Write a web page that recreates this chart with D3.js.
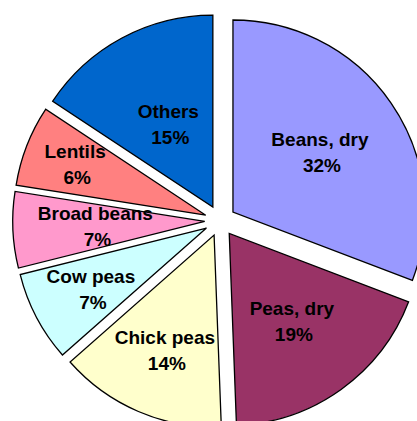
<!DOCTYPE html>
<html>
<head>
    <meta charset="utf-8">
    <title>Pulses pie</title>
    <script type="text/javascript" src="https://d3js.org/d3.v7.min.js"></script>
    <style>
    body{ margin:0; background:#fff; }
    .lbl{ font-family:"Liberation Sans", Arial, sans-serif; font-weight:bold; font-size:19px; fill:#000; }
    </style>
</head>
<body>
<div id="chart"></div>
<script>
// slice shares as drawn, and the percentage labels printed on them
var categories = ['Beans, dry','Peas, dry','Chick peas','Cow peas','Broad beans','Lentils','Others'];
var values     = [30.8, 18.6, 14.1, 7.6, 6.4, 6.8, 15.7];
var pctLabels  = ['32%','19%','14%','7%','7%','6%','15%'];

var colors = ['#9999ff','#993366','#ffffcc','#ccffff','#ff99cc','#ff8080','#0066cc'];
// how far out each label sits, as a fraction of radius
var labelR = [0.55, 0.56, 0.65, 0.68, 0.57, 0.73, 0.49];

var w=417,h=421;
var cx=220.2, cy=220.8, r=192, explode=15.5;

var pie=d3.pie()
        .value(function(d){return d})
        .sort(null);

var arcs=pie(values);

var arc=d3.arc()
        .innerRadius(0)
        .outerRadius(r);

var svg=d3.select('#chart')
        .append('svg')
        .attr('width',w)
        .attr('height',h);

var g=svg.append('g')
        .attr('transform','translate('+cx+','+cy+')');

var slice=g.selectAll('g.slice')
        .data(arcs)
        .enter().append('g')
        .attr('class','slice')
        .attr('transform',function(d){
            var a=(d.startAngle+d.endAngle)/2;
            return 'translate('+(explode*Math.sin(a))+','+(-explode*Math.cos(a))+')';
        });

slice.append('path')
        .attr('d',arc)
        .style('fill',function(d,i){return colors[i]})
        .style('stroke','#000')
        .style('stroke-width',1.3)
        .style('stroke-linejoin','miter');

var txt=slice.append('text')
        .attr('class','lbl')
        .style('text-anchor','middle')
        .attr('transform',function(d,i){
            var a=(d.startAngle+d.endAngle)/2, rr=labelR[i]*r;
            return 'translate('+(rr*Math.sin(a))+','+(-rr*Math.cos(a))+')';
        });

txt.append('tspan')
        .attr('x',0)
        .attr('y',-6)
        .text(function(d,i){return categories[i]});

txt.append('tspan')
        .attr('x',2)
        .attr('y',20)
        .text(function(d,i){return pctLabels[i]});
</script>
</body>
</html>
